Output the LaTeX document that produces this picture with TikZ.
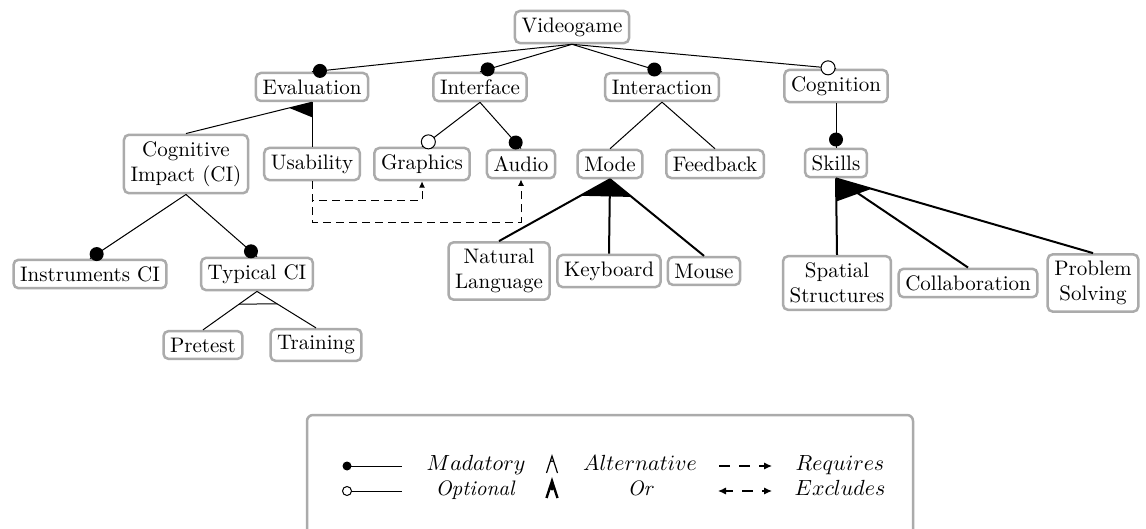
\documentclass[tikz,border=0pt]{standalone}
\usetikzlibrary{calc,arrows.meta}
% edge to a mandatory / optional child: line plus a circle just above the child
\newcommand\mandedge[2]{%
  \draw[link] (#1.south) -- (#2.north);
  \node[mand] at ($(#2.north)!4pt!(#1.south)$) {};}
\newcommand\optedge[2]{%
  \draw[link] (#1.south) -- (#2.north);
  \node[opt] at ($(#2.north)!4pt!(#1.south)$) {};}
\begin{document}
\begin{tikzpicture}[x=0.5pt,y=-0.5pt,
  feat/.style={draw=black!33, line width=1.25pt, rounded corners=2.5pt, fill=white,
    align=center, inner sep=3.3pt, font=\fontsize{10.5}{12.6}\selectfont},
  link/.style={line width=0.5pt},
  heavy/.style={line width=1pt},
  mand/.style={circle, fill=black, inner sep=0pt, minimum size=7pt},
  opt/.style={circle, draw=black, line width=0.5pt, fill=white, inner sep=0pt, minimum size=7pt},
  tip/.tip={Latex[length=3.2pt,width=3pt]},
  bigtip/.tip={Latex[length=4pt,width=3.6pt]},
  req/.style={line width=0.5pt, dash pattern=on 4pt off 2.5pt, -tip},
  keyreq/.style={line width=0.6pt, dash pattern=on 5.5pt off 4.5pt},
  lbl/.style={font=\fontsize{10.5}{12.6}\selectfont, anchor=base, inner sep=0pt},
]
\useasboundingbox (0,0) rectangle (1146,529);

% ---- legend frame
\draw[draw=black!33, line width=1.25pt, rounded corners=3pt, fill=white] (307,415) rectangle (913,570);

% ---- features
\node[feat] (vg)  at (572,27)  {Videogame};
\node[feat] (ev)  at (312,87)  {Evaluation};
\node[feat] (if)  at (480,87)  {Interface};
\node[feat] (ia)  at (662,87)  {Interaction};
\node[feat] (cg)  at (836,86)  {Cognition};
\node[feat] (ci)  at (186,164) {Cognitive\\Impact (CI)};
\node[feat] (us)  at (312,164) {Usability};
\node[feat] (gr)  at (422,164) {Graphics};
\node[feat] (au)  at (521,164) {Audio};
\node[feat] (mo)  at (610,164) {Mode};
\node[feat] (fb)  at (715,164) {Feedback};
\node[feat] (sk)  at (836,163) {Skills};
\node[feat] (ins) at (90,274)  {Instruments CI};
\node[feat] (tc)  at (257,274) {Typical CI};
\node[feat] (pre) at (203,345) {Pretest};
\node[feat] (tr)  at (316,345) {Training};
\node[feat] (nl)  at (499,271) {Natural\\Language};
\node[feat] (kb)  at (609,271) {Keyboard};
\node[feat] (ms)  at (704,271) {Mouse};
\node[feat] (ss)  at (837,283) {Spatial\\Structures};
\node[feat] (co)  at (968,283) {Collaboration};
\node[feat] (ps)  at (1093,283) {Problem\\Solving};

% ---- root
\mandedge{vg}{ev}
\mandedge{vg}{if}
\mandedge{vg}{ia}
\optedge{vg}{cg}

% ---- evaluation (or-group)
\draw[link] (ev.south) -- (ci.north);
\draw[link] (ev.south) -- (us.north);
\fill (ev.south) -- ($(ev.south)!11.75pt!(ci.north)$) -- ($(ev.south)!7.5pt!(us.north)$) -- cycle;

% ---- interface
\optedge{if}{gr}
\mandedge{if}{au}

% ---- interaction
\draw[link] (ia.south) -- (mo.north);
\draw[link] (ia.south) -- (fb.north);

% ---- cognition
\mandedge{cg}{sk}

% ---- cognitive impact
\mandedge{ci}{ins}
\mandedge{ci}{tc}

% ---- typical CI (alternative group)
\draw[link] (tc.south) -- (pre.north);
\draw[link] (tc.south) -- (tr.north);
\draw[link] ($(tc.south)!11pt!(pre.north)$) -- ($(tc.south)!11.8pt!(tr.north)$);

% ---- mode (or-group)
\draw[heavy] (mo.south) -- (nl.north);
\draw[heavy] (mo.south) -- (kb.north);
\draw[heavy] (mo.south) -- (ms.north);
\fill (mo.south) -- ($(mo.south)!17pt!(nl.north)$) -- ($(mo.south)!14pt!(ms.north)$) -- cycle;

% ---- skills (or-group)
\draw[heavy] (sk.south) -- (ss.north);
\draw[heavy] (sk.south) -- (co.north);
\draw[heavy] (sk.south) -- (ps.north);
\fill (sk.south) -- ($(sk.south)!11.5pt!(ss.north)$) -- ($(sk.south)!18.5pt!(ps.north)$) -- cycle;

% ---- requires constraints
\draw[req] (us.south) -- ++(0,19) -| (gr.south);
\draw[req] (us.south) -- ++(0,41) -| (au.south);

% ---- legend
\draw[link] (347,466) -- (402,466);
\node[mand, minimum size=4.5pt] at (347,466) {};
\draw[link] (350,491) -- (402,491);
\node[opt, minimum size=4.5pt] at (347,491) {};
\node[lbl] at (476,470) {$Madatory$};
\node[lbl] at (475,495) {\itshape Optional};

% alternative / or group keys
\draw[line width=0.6pt] (546.5,473) -- (552,456) -- (557.5,473);
\draw[line width=0.45pt] (550.5,460.5) .. controls (551,462) and (553,462) .. (553.5,460.5);
\draw[line width=1.2pt] (546.5,498) -- (552,481) -- (557.5,498);
\fill (552,481) -- (549.4,489) .. controls (551,491) and (553,491) .. (554.6,489) -- cycle;
\node[lbl] at (640,470) {$Alternative$};
\node[lbl] at (640,495) {\itshape Or};

% requires / excludes keys
\draw[keyreq, -bigtip] (719,466) -- (772,466);
\draw[keyreq, dash phase=1.5pt, bigtip-bigtip] (718,491) -- (772,491);
\node[lbl] at (840,470) {$Requires$};
\node[lbl] at (840,495) {$Excludes$};
\end{tikzpicture}
\end{document}
